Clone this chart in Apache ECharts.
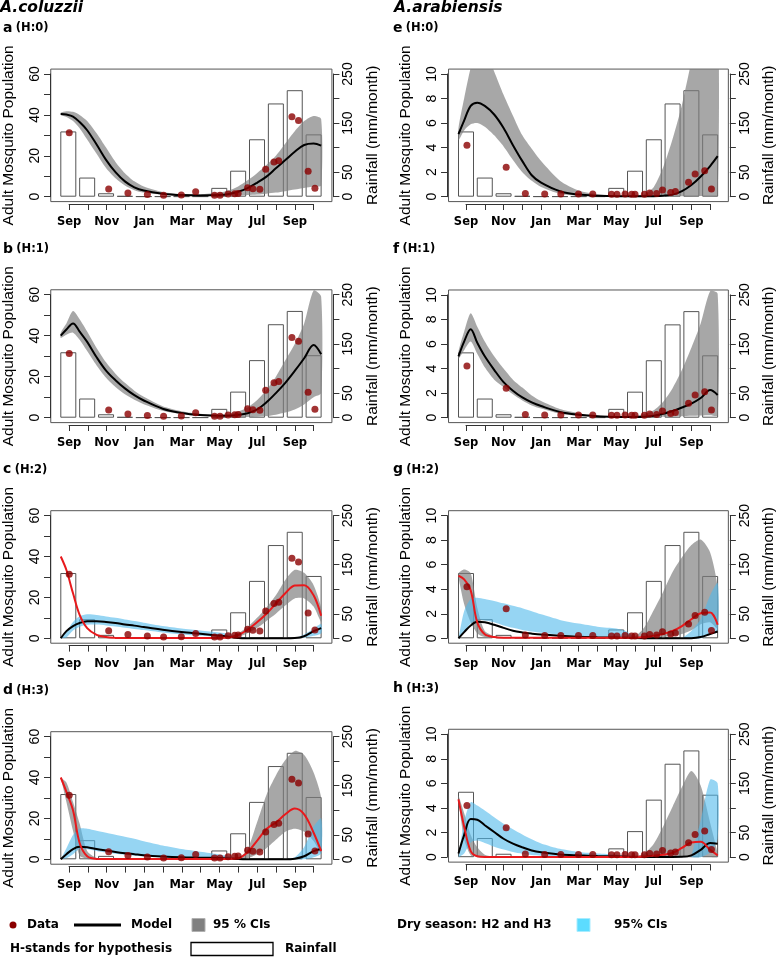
<!DOCTYPE html>
<html><head><meta charset="utf-8">
<script src="https://cdn.jsdelivr.net/npm/echarts@6.0.0/dist/echarts.min.js"></script>
<style>html,body{margin:0;padding:0;background:#fff}#chart{width:778px;height:960px}</style>
</head><body><div id="chart"></div>
<script>
// ---------- data ----------
const MONTHS = ['Sep','Oct','Nov','Dec','Jan','Feb','Mar','Apr','May','Jun','Jul','Aug','Sep','Oct'];
const RAIN_MONTH = [0,1,2,3,4,5,6,7,8,9,10,11,12,13];
const RAINFALL = [133,39,7,1.5,0.5,0.5,0.5,0.5,18,53,117,190,217,127];

const DATA_MONTH = [0.05,2.14,3.16,4.19,5.05,5.99,6.75,7.75,8.04,8.47,8.82,9.0,9.5,9.78,10.15,10.46,10.9,11.15,11.85,12.2,12.71,13.07];
const COLUZZII_DATA = [31.3,3.75,1.8,1.1,0.65,0.8,2.4,0.65,0.65,1.3,1.5,1.6,4.4,3.9,3.6,13.4,17,17.6,39.1,37.3,12.4,4.1];
const ARABIENSIS_DATA = [4.2,2.4,0.27,0.22,0.22,0.22,0.22,0.19,0.19,0.22,0.19,0.19,0.19,0.3,0.27,0.54,0.35,0.43,1.17,1.85,2.12,0.63];

// model sample months
const XS = [-0.4,-0.1,0.25,0.6,1,1.5,2,2.5,3,3.5,4,5,6,7,8,8.5,9,9.5,10,10.5,11,11.5,12,12.5,13,13.4];

// a (H:0) coluzzii
const A_MODEL = [40.5,40.2,39.2,36.5,32.5,25.5,18,12,7.5,4.6,3,1.5,0.8,0.6,0.8,1.3,2.4,4.2,6.8,9.8,13.9,17.9,22,25.3,26,25];
const A_CI_UP = [41,41.8,41.5,40,37,31,24,17,11.5,7.5,5,2.3,1.3,1.2,2,3,5,8,11.5,15.5,20,26,32,37,39.5,38];
const A_CI_LO = [40,39,37,33.5,28,21,14,9,5.5,3.2,2,0.9,0.4,0.3,0.3,0.4,0.5,0.8,1.1,1.5,2,2.7,3.5,4.3,5,5.5];
// b (H:1) coluzzii
const B_MODEL = [40,43,46,42,37,29.5,23,18.3,14.3,11,8.4,4.4,2.3,1.3,1.0,1.0,1.4,2.2,4,7.5,12,17,22.8,29,35.5,31];
const B_CI_UP = [41.5,46,52,48,42,34,27,21.5,17,13.2,10.2,5.6,3.2,1.9,1.5,1.8,3,5,8.5,13.5,20,28,36,46,62,59];
const B_CI_LO = [39,40.5,41.5,38,32.5,25.5,19.5,15,11.5,8.8,6.6,3.4,1.8,1,0.6,0.5,0.4,0.4,0.5,0.8,1.5,2.5,4,6.5,10,12];
// c (H:2) coluzzii
const C_RED = [40,33.4,22,11.5,5,1.7,0.6,0.2,0.1,0.1,0.1,0.1,0.1,0.1,0.2,0.4,1.6,4.2,7.8,12,17,22,25.8,26,21,11];
const C_CI_UP = [null,null,null,null,null,null,null,null,null,null,null,null,null,null,0.2,0.8,2.5,5.5,10,15,21,28.5,33.5,32,26,15];
const C_CI_LO = [null,null,null,null,null,null,null,null,null,null,null,null,null,null,0.1,0.3,0.8,2.5,5,8.5,12,16,19.5,19.5,15.5,8];
const C_BLACK = [0,3.5,6,7.5,8.3,8.3,8,7.5,6.8,6.2,5.5,4.2,3.1,2.2,1.3,0.8,0.1,0,0,0,0,0,0.1,1,3.5,5];
const C_DRY_UP = [0,3.3,8,10.8,11.7,11.4,10.7,10,9.2,8.4,7.6,6,4.8,3.8,2.8,2.2,1.2,0,null,null,null,null,0,1.8,4.8,7];
const C_DRY_LO = [0,0.4,3.8,5.6,6.6,6.7,6.3,5.8,5.2,4.6,4,2.8,1.9,1.2,0.6,0.3,0,0,null,null,null,null,0,0.3,1.2,2.5];
// d (H:3) coluzzii
const D_RED = [40,33,24,8,1.5,0.2,0.1,0.1,0.1,0.1,0.1,0.1,0.1,0.1,0.1,0.2,0.5,3.5,9,14.8,18,22,24.8,22,13,4];
const D_CI_UP = [40,37.5,28,17.5,4,0.6,0.2,null,null,null,null,null,null,null,0.1,0.2,0.5,5,18,31.5,41,48.5,53,51,42.5,30];
const D_CI_LO = [40,28,14,1.8,0.2,0.05,0.05,null,null,null,null,null,null,null,0.05,0.1,0.1,0.5,2.5,5.4,9.5,13.5,15,13.5,9,3];
const D_BLACK = [0,2.5,5,6.1,5.9,5,4.3,3.6,3,2.5,2,1.4,1,0.8,0.6,0.4,0.1,0,0,0,0,0,0.3,1.5,4,5];
const D_DRY_UP = [0,5.4,11.9,15,15,14,13,12,11,10,8.8,6.7,5,3.7,2.4,1.6,0.5,0,null,null,null,0,1,6,16,20];
const D_DRY_LO = [0,0.5,2.5,5.2,4.9,4.1,3.3,2.7,2.2,1.8,1.4,0.9,0.5,0.3,0.1,0,0,0,null,null,null,0,0,0,1,3];
// e (H:0) arabiensis
const E_MODEL = [5.1,6.2,7.4,7.66,7.4,6.7,5.6,4.2,2.9,1.75,1.15,0.45,0.17,0.07,0.03,0.03,0.03,0.03,0.04,0.08,0.17,0.45,0.95,1.65,2.5,3.3];
const E_CI_UP = [5.6,8,10.5,12,12,10.2,8.3,6.6,5,3.9,2.9,1.3,0.5,0.2,0.06,0.05,0.07,0.2,0.8,2.4,4.7,7.5,11,14,16,16];
const E_CI_LO = [4.6,5.4,5.9,6,5.7,5,4.1,3,2,1.3,0.8,0.25,0.08,0.03,0.01,0.01,0.01,0.01,0.01,0.01,0.02,0.03,0.04,0.05,0.06,0.08];
// f (H:1) arabiensis
const F_MODEL = [5,6.2,7.2,6.1,5,3.9,2.9,2.2,1.65,1.25,0.95,0.47,0.24,0.12,0.06,0.05,0.05,0.08,0.16,0.32,0.55,0.83,1.15,1.6,2.25,1.85];
const F_CI_UP = [5.4,7,8.5,7.4,6.2,5,4,3.1,2.45,1.8,1.35,0.7,0.37,0.18,0.09,0.09,0.15,0.3,0.6,1.3,2.4,3.9,5.7,7.7,10.3,10.1];
const F_CI_LO = [4.8,5.5,6.2,5.2,4.1,3.1,2.5,1.9,1.4,1,0.75,0.33,0.15,0.07,0.03,0.03,0.03,0.04,0.05,0.07,0.1,0.12,0.15,0.18,0.2,0.2];
// g (H:2) arabiensis
const G_RED = [5.1,4.8,3.9,1.3,0.33,0.1,0.05,0.05,0.05,0.05,0.05,0.05,0.05,0.05,0.05,0.05,0.05,0.1,0.2,0.35,0.6,1.0,1.55,2.05,2.1,1.1];
const G_CI_UP = [5.3,5.6,5.3,2.5,0.6,0.15,null,null,null,null,null,null,null,null,null,0.08,0.15,0.9,2.3,3.8,5.4,6.6,7.6,8.05,7,4.1];
const G_CI_LO = [5,2.8,1.3,0.4,0.1,0.05,null,null,null,null,null,null,null,null,null,0.03,0.03,0.04,0.06,0.1,0.2,0.35,0.65,1.15,1.3,0.8];
const G_BLACK = [0,0.5,1.05,1.35,1.3,1.1,0.85,0.62,0.48,0.38,0.3,0.2,0.13,0.09,0.06,0.04,0.02,0.01,0.01,0.01,0.01,0.01,0.01,0.1,0.35,0.55];
const G_DRY_UP = [0,2.2,3.2,3.3,3.2,3.05,2.85,2.65,2.45,2.2,1.95,1.5,1.2,0.95,0.8,0.6,0.1,0,null,null,null,0,0.6,1.6,3.5,4.5];
const G_DRY_LO = [0,0.5,1.2,1.5,1.45,1.3,1.05,0.85,0.68,0.55,0.45,0.3,0.18,0.1,0.05,0.02,0,0,null,null,null,0,0,0,0.3,0.65];
// h (H:3) arabiensis
const H_RED = [4.7,2.5,0.5,0.08,0.02,0.02,0.02,0.02,0.02,0.02,0.02,0.02,0.02,0.02,0.02,0.02,0.02,0.05,0.13,0.2,0.35,0.75,1.2,1.25,0.6,0.15];
const H_CI_UP = [5,3.6,1.8,0.8,0.2,0.03,null,null,null,null,null,null,null,null,null,null,0.03,0.3,1.1,2.5,4.1,5.7,7,5.8,2.8,0.3];
const H_CI_LO = [4.6,1.5,0.15,0.03,0.02,0.02,null,null,null,null,null,null,null,null,null,null,0.02,0.02,0.02,0.02,0.02,0.02,0.02,0.02,0.02,0.02];
const H_BLACK = [0.3,1.8,3.1,3.05,2.6,2.05,1.5,1.1,0.8,0.55,0.4,0.22,0.15,0.1,0.07,0.05,0.03,0.02,0.02,0.02,0.02,0.03,0.15,0.6,1.15,1.1];
const H_DRY_UP = [0,2.9,4.47,4.2,3.8,3.25,2.72,2.28,1.85,1.45,1.12,0.68,0.42,0.3,0.22,0.15,0.03,null,null,null,null,null,0.05,3,6.3,6];
const H_DRY_LO = [0,0.3,1.2,1.35,1.15,0.85,0.62,0.42,0.28,0.18,0.12,0.06,0.03,0.02,0.01,0,0,null,null,null,null,null,0,0,0.4,1.5];

// ---------- panels ----------
const PANELS = [
  {lab:'a', hyp:'(H:0)', col:0, y0:196.7, yt:74,    ymax:60, obs:COLUZZII_DATA,  black:A_MODEL, ciUp:A_CI_UP, ciLo:A_CI_LO},
  {lab:'b', hyp:'(H:1)', col:0, y0:417.7, yt:294.7, ymax:60, obs:COLUZZII_DATA,  black:B_MODEL, ciUp:B_CI_UP, ciLo:B_CI_LO},
  {lab:'c', hyp:'(H:2)', col:0, y0:638.3, yt:515.6, ymax:60, obs:COLUZZII_DATA,  black:C_BLACK, red:C_RED, ciUp:C_CI_UP, ciLo:C_CI_LO, dryUp:C_DRY_UP, dryLo:C_DRY_LO},
  {lab:'d', hyp:'(H:3)', col:0, y0:859.3, yt:736.6, ymax:60, obs:COLUZZII_DATA,  black:D_BLACK, red:D_RED, ciUp:D_CI_UP, ciLo:D_CI_LO, dryUp:D_DRY_UP, dryLo:D_DRY_LO},
  {lab:'e', hyp:'(H:0)', col:1, y0:196.7, yt:74,    ymax:10, obs:ARABIENSIS_DATA, black:E_MODEL, ciUp:E_CI_UP, ciLo:E_CI_LO},
  {lab:'f', hyp:'(H:1)', col:1, y0:417.7, yt:294.9, ymax:10, obs:ARABIENSIS_DATA, black:F_MODEL, ciUp:F_CI_UP, ciLo:F_CI_LO},
  {lab:'g', hyp:'(H:2)', col:1, y0:638.3, yt:515.6, ymax:10, obs:ARABIENSIS_DATA, black:G_BLACK, red:G_RED, ciUp:G_CI_UP, ciLo:G_CI_LO, dryUp:G_DRY_UP, dryLo:G_DRY_LO},
  {lab:'h', hyp:'(H:3)', col:1, y0:857.2, yt:734.2, ymax:10, obs:ARABIENSIS_DATA, black:H_BLACK, red:H_RED, ciUp:H_CI_UP, ciLo:H_CI_LO, dryUp:H_DRY_UP, dryLo:H_DRY_LO}
];
const COLS = [{px0:68.3, dx:18.87}, {px0:466, dx:18.78}];
const XMIN = -0.93, XMAX = 13.97;
const GRAY = 'rgba(125,125,125,0.68)';
const BLUE = 'rgba(80,185,235,0.6)';
const AXC = '#333';

function bandSeries(xi, yi, lo, up, color, z) {
  return {
    type: 'custom', xAxisIndex: xi, yAxisIndex: yi, z: z, silent: true,
    data: [[XS[0], 0]],
    renderItem: function (params, api) {
      const children = [];
      let seg = [];
      const flush = function () {
        if (seg.length > 1) {
          const pts = seg.map(i => api.coord([XS[i], up[i]]))
            .concat(seg.slice().reverse().map(i => api.coord([XS[i], lo[i]])));
          children.push({type: 'polygon', shape: {points: pts, smooth: 0.25}, style: {fill: color}});
        }
        seg = [];
      };
      for (let i = 0; i < XS.length; i++) {
        if (up[i] == null || lo[i] == null) flush(); else seg.push(i);
      }
      flush();
      const cs = params.coordSys;
      return {type: 'group', children: children,
        clipPath: {type: 'rect', shape: {x: cs.x, y: cs.y, width: cs.width, height: cs.height}}};
    }
  };
}

const grid = [], xAxis = [], yAxis = [], series = [], graphic = [];
PANELS.forEach(function (p, k) {
  const c = COLS[p.col];
  const ppx = (p.y0 - p.yt);
  const boxL = c.px0 + XMIN * c.dx, boxW = (XMAX - XMIN) * c.dx;
  const boxT = p.yt - 0.04 * ppx, boxH = 1.08 * ppx;
  const g0 = grid.length;
  grid.push({left: boxL, top: boxT, width: boxW, height: boxH, show: true, borderColor: '#555', borderWidth: 1, backgroundColor: 'transparent', containLabel: false});
  grid.push({left: c.px0, top: p.yt, width: 13 * c.dx, height: ppx, show: false, containLabel: false});
  const xPlot = xAxis.length;
  xAxis.push({gridIndex: g0, type: 'value', min: XMIN, max: XMAX, show: false});
  xAxis.push({gridIndex: g0 + 1, type: 'value', min: 0, max: 13, interval: 1, position: 'bottom', offset: 7.3,
    axisLine: {show: true, onZero: false, lineStyle: {color: AXC, width: 1}},
    axisTick: {show: true, length: 6, lineStyle: {color: AXC}},
    axisLabel: {formatter: v => (v % 2 === 0 ? MONTHS[v] : ''), fontFamily: 'DejaVu Sans', fontWeight: 'bold', fontSize: 11.5, color: '#000', margin: 12},
    splitLine: {show: false}});
  const yL = yAxis.length;
  const pad = 0.04 * p.ymax;
  yAxis.push({gridIndex: g0, type: 'value', min: -pad, max: p.ymax + pad, show: false});
  yAxis.push({gridIndex: g0, type: 'value', min: -10, max: 260, show: false, position: 'right'});
  const offL = c.px0 - (boxL - 1.5);
  const offR = (boxL + boxW + 1.5) - (c.px0 + 13 * c.dx);
  yAxis.push({gridIndex: g0 + 1, type: 'value', position: 'left', min: 0, max: p.ymax, interval: p.ymax === 60 ? 10 : 2, offset: offL,
    axisLine: {show: true, onZero: false, lineStyle: {color: AXC}},
    axisTick: {show: true, length: 6, lineStyle: {color: AXC}},
    axisLabel: {rotate: 90, formatter: v => (p.ymax === 60 ? (v % 20 === 0 ? String(v) : '') : String(v)), fontFamily: 'Liberation Sans', fontSize: 14, color: '#000', margin: 8},
    splitLine: {show: false},
    name: 'Adult Mosquito Population', nameLocation: 'middle', nameRotate: 90, nameGap: 33,
    nameTextStyle: {fontFamily: 'Liberation Sans', fontSize: 15.5, color: '#000'}});
  yAxis.push({gridIndex: g0 + 1, type: 'value', position: 'right', min: 0, max: 250, interval: 50, offset: offR,
    axisLine: {show: true, onZero: false, lineStyle: {color: AXC}},
    axisTick: {show: true, length: 6, lineStyle: {color: AXC}},
    axisLabel: {rotate: 90, formatter: v => ([0, 50, 150, 250].indexOf(v) >= 0 ? String(v) : ''), fontFamily: 'Liberation Sans', fontSize: 14, color: '#000', margin: 8},
    splitLine: {show: false},
    name: 'Rainfall (mm/month)', nameLocation: 'middle', nameRotate: 90, nameGap: 31,
    nameTextStyle: {fontFamily: 'Liberation Sans', fontSize: 15.5, color: '#000'}});

  // rainfall bars
  series.push({type: 'bar', xAxisIndex: xPlot, yAxisIndex: yL + 1, barWidth: 16, z: 1, silent: true,
    itemStyle: {color: '#fff', borderColor: '#555', borderWidth: 1},
    data: RAIN_MONTH.map((m, i) => [m, RAINFALL[i]])});
  // CI bands
  series.push(bandSeries(xPlot, yL, p.ciLo, p.ciUp, GRAY, 2));
  if (p.dryUp) series.push(bandSeries(xPlot, yL, p.dryLo, p.dryUp, BLUE, 3));
  // lines
  series.push({type: 'line', xAxisIndex: xPlot, yAxisIndex: yL, z: 4, smooth: 0.35, symbol: 'none', silent: true,
    lineStyle: {color: '#000', width: 2}, data: XS.map((x, i) => [x, p.black[i]])});
  if (p.red) series.push({type: 'line', xAxisIndex: xPlot, yAxisIndex: yL, z: 5, smooth: 0.35, symbol: 'none', silent: true,
    lineStyle: {color: '#e8191c', width: 2}, data: XS.map((x, i) => [x, p.red[i]])});
  // observations
  series.push({type: 'scatter', xAxisIndex: xPlot, yAxisIndex: yL, z: 6, symbolSize: 7, silent: true,
    itemStyle: {color: '#8b0000'}, data: DATA_MONTH.map((m, i) => [m, p.obs[i]])});

  // panel label
  const lx = p.col === 0 ? 3 : 393;
  const ly = p.y0 - 168.5;
  graphic.push({type: 'text', x: lx, y: ly, style: {text: '{l|' + p.lab + '} {h|' + p.hyp + '}', verticalAlign: 'middle',
    rich: {l: {fontFamily: 'DejaVu Sans', fontWeight: 'bold', fontSize: 14, fill: '#000'}, h: {fontFamily: 'DejaVu Sans', fontWeight: 'bold', fontSize: 11.5, fill: '#000'}}}});
});

// species titles
graphic.push({type: 'text', x: 0, y: 8, style: {text: 'A.coluzzii', font: 'italic bold 15.5px "DejaVu Sans"', fill: '#000', verticalAlign: 'middle'}});
graphic.push({type: 'text', x: 394, y: 8, style: {text: 'A.arabiensis', font: 'italic bold 15.5px "DejaVu Sans"', fill: '#000', verticalAlign: 'middle'}});

// legend
const LF = 'bold 12px "DejaVu Sans"';
const R1 = 925, R2 = 949;
graphic.push({type: 'circle', shape: {cx: 13, cy: R1, r: 3.5}, style: {fill: '#8b0000'}});
graphic.push({type: 'text', x: 27, y: R1, style: {text: 'Data', font: LF, fill: '#000', verticalAlign: 'middle'}});
graphic.push({type: 'line', shape: {x1: 74, y1: R1, x2: 121, y2: R1}, style: {stroke: '#000', lineWidth: 3}});
graphic.push({type: 'text', x: 131, y: R1, style: {text: 'Model', font: LF, fill: '#000', verticalAlign: 'middle'}});
graphic.push({type: 'rect', shape: {x: 192, y: R1 - 6.5, width: 13, height: 13}, style: {fill: '#808080', stroke: '#b0b0b0', lineWidth: 1}});
graphic.push({type: 'text', x: 213, y: R1, style: {text: '95 % CIs', font: LF, fill: '#000', verticalAlign: 'middle'}});
graphic.push({type: 'text', x: 397, y: R1, style: {text: 'Dry season: H2 and H3', font: LF, fill: '#000', verticalAlign: 'middle'}});
graphic.push({type: 'rect', shape: {x: 577, y: R1 - 6.5, width: 13, height: 13}, style: {fill: '#5cdcff', stroke: '#a8ecff', lineWidth: 1}});
graphic.push({type: 'text', x: 614, y: R1, style: {text: '95% CIs', font: LF, fill: '#000', verticalAlign: 'middle'}});
graphic.push({type: 'text', x: 10, y: R2, style: {text: 'H-stands for hypothesis', font: LF, fill: '#000', verticalAlign: 'middle'}});
graphic.push({type: 'rect', shape: {x: 191, y: R2 - 6.5, width: 82, height: 13}, style: {fill: '#fff', stroke: '#000', lineWidth: 1.3}});
graphic.push({type: 'text', x: 285, y: R2, style: {text: 'Rainfall', font: LF, fill: '#000', verticalAlign: 'middle'}});

const chart = echarts.init(document.getElementById('chart'), null, {renderer: 'canvas'});
chart.setOption({animation: false, backgroundColor: '#fff', grid, xAxis, yAxis, series, graphic});
</script></body></html>
